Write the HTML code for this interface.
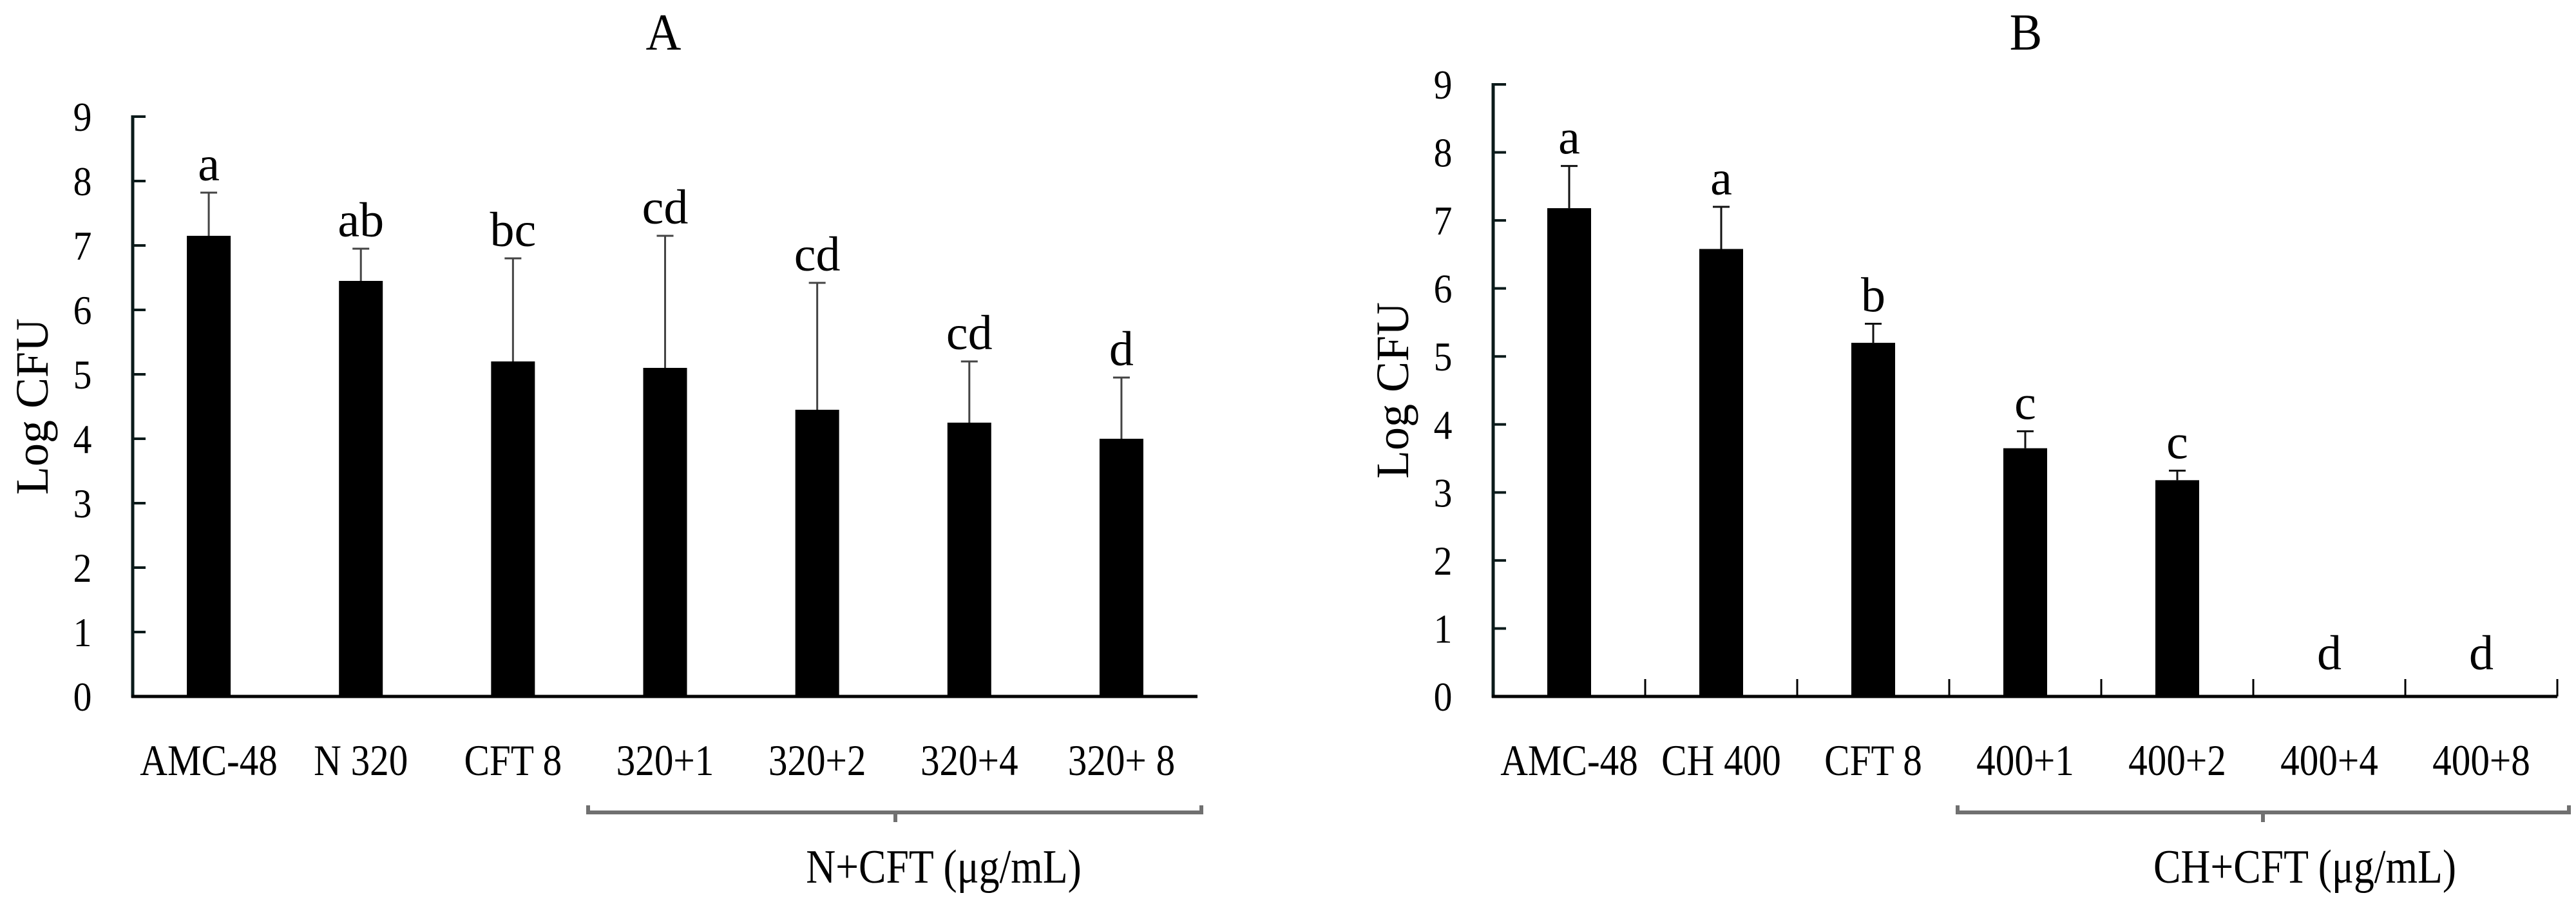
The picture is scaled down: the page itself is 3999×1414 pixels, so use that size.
<!DOCTYPE html>
<html><head><meta charset="utf-8"><style>
html,body{margin:0;padding:0;background:#fff;}
svg{display:block;}
text{font-family:"Liberation Serif",serif;fill:#000;}
</style></head><body>
<svg id="chart" width="3999" height="1414" viewBox="0 0 3999 1414" xmlns="http://www.w3.org/2000/svg"></svg>
<script>
const categoriesA = ["AMC-48","N 320","CFT 8","320+1","320+2","320+4","320+ 8"];
const valuesA = [7.15, 6.45, 5.2, 5.1, 4.45, 4.25, 4.0];
const errTopA = [7.82, 6.95, 6.8, 7.15, 6.42, 5.2, 4.95];
const lettersA = ["a","ab","bc","cd","cd","cd","d"];
const categoriesB = ["AMC-48","CH 400","CFT 8","400+1","400+2","400+4","400+8"];
const valuesB = [7.18, 6.58, 5.2, 3.65, 3.18, 0, 0];
const errTopB = [7.8, 7.2, 5.48, 3.9, 3.32, 0, 0];
const lettersB = ["a","a","b","c","c","d","d"];
const yTicks = [0,1,2,3,4,5,6,7,8,9];

const NS = "http://www.w3.org/2000/svg";
const svg = document.getElementById("chart");
function mk(tag, attrs, parent){
  const e = document.createElementNS(NS, tag);
  for (const k in attrs) e.setAttribute(k, attrs[k]);
  (parent||svg).appendChild(e);
  return e;
}
function txt(x, y, s, size, sx, anchor, parent){
  const g = mk("g", {transform:`translate(${x},${y}) scale(${sx},1)`}, parent);
  const t = mk("text", {x:0, y:0, "font-size":size, "text-anchor":anchor||"middle"}, g);
  t.textContent = s;
  return t;
}

function panel(cfg){
  const {id, axisX, axisEnd, y0, y9, cats, vals, errs, letters, title, titleX, groupLabel, groupX, brL, brR, brC, xTicks, tickColor} = cfg;
  const root = mk("g", {});
  
  
  const yScale = v => y0 - (y0 - y9) * v / 9;
  const step = (axisEnd - axisX) / cats.length;
  const xScale = i => axisX + step * (i + 0.5);
  const barW = 68;

  const tt = txt(titleX, 77, title, 80, 0.95, "middle", root);
  
  

  const yl = mk("text", {x:0, y:0, "font-size":72, "text-anchor":"middle", transform:`translate(${axisX-132},${(y0+y9)/2}) rotate(-90)`}, root);
  yl.textContent = "Log CFU";
  
  

  yTicks.forEach(v => {
    const y = yScale(v);
    const tk = mk("line", {x1:axisX, x2:axisX+20, y1:y, y2:y, stroke:"#0a1a1a", "stroke-width":4}, root);
    
    
    const lb = txt(axisX-78, y+22, String(v), 64, 0.9, "middle", root);
    
    
  });

  vals.forEach((v, i) => {
    const cx = xScale(i);
    if (v > 0) {
      const b = mk("rect", {x:cx-barW/2, y:yScale(v), width:barW, height:y0-yScale(v), fill:"#000"}, root);
      
      
      const e1 = mk("line", {x1:cx, x2:cx, y1:yScale(v), y2:yScale(errs[i]), stroke:tickColor, "stroke-width":3}, root);
      
      
      const e2 = mk("line", {x1:cx-13, x2:cx+13, y1:yScale(errs[i]), y2:yScale(errs[i]), stroke:tickColor, "stroke-width":3}, root);
      
      
    }
    const ly = v > 0 ? yScale(errs[i]) - 19 : y0 - 42;
    const lt = txt(cx, ly, letters[i], 76, 1, "middle", root);
    
    
    const cl = txt(cx, 1203, cats[i], 68, 0.87, "middle", root);
    
    
  });

  if (xTicks) {
    for (let i = 1; i <= cats.length; i++) {
      const x = axisX + step * i;
      const xt = mk("line", {x1:x, x2:x, y1:y0, y2:y0-27, stroke:"#000", "stroke-width":3}, root);
      
      
    }
  }

  const ya = mk("line", {x1:axisX, x2:axisX, y1:y9-2, y2:y0+2, stroke:"#0a1a1a", "stroke-width":5}, root);
  
  
  const xa = mk("line", {x1:axisX-2, x2:axisEnd, y1:y0, y2:y0, stroke:"#000", "stroke-width":5}, root);
  
  

  const br = mk("path", {d:`M${brL},${1250} L${brL},${1261} L${brR},${1261} L${brR},${1250} M${brC},${1261} L${brC},${1276}`, stroke:"#707070", "stroke-width":6, fill:"none"}, root);
  
  
  const gl = txt(groupX, 1370, groupLabel, 74, 0.86, "middle", root);
  
  
}

panel({id:"panel-a", axisX:206, axisEnd:1859, y0:1081, y9:181, cats:categoriesA, vals:valuesA, errs:errTopA, letters:lettersA, title:"A", titleX:1030, groupLabel:"N+CFT (μg/mL)", groupX:1465, brL:913, brR:1865, brC:1390, xTicks:false, tickColor:"#444"});
panel({id:"panel-b", axisX:2318, axisEnd:3970, y0:1081, y9:131, cats:categoriesB, vals:valuesB, errs:errTopB, letters:lettersB, title:"B", titleX:3145, groupLabel:"CH+CFT (μg/mL)", groupX:3578, brL:3039, brR:3988, brC:3513, xTicks:true, tickColor:"#111"});
</script>
</body></html>
